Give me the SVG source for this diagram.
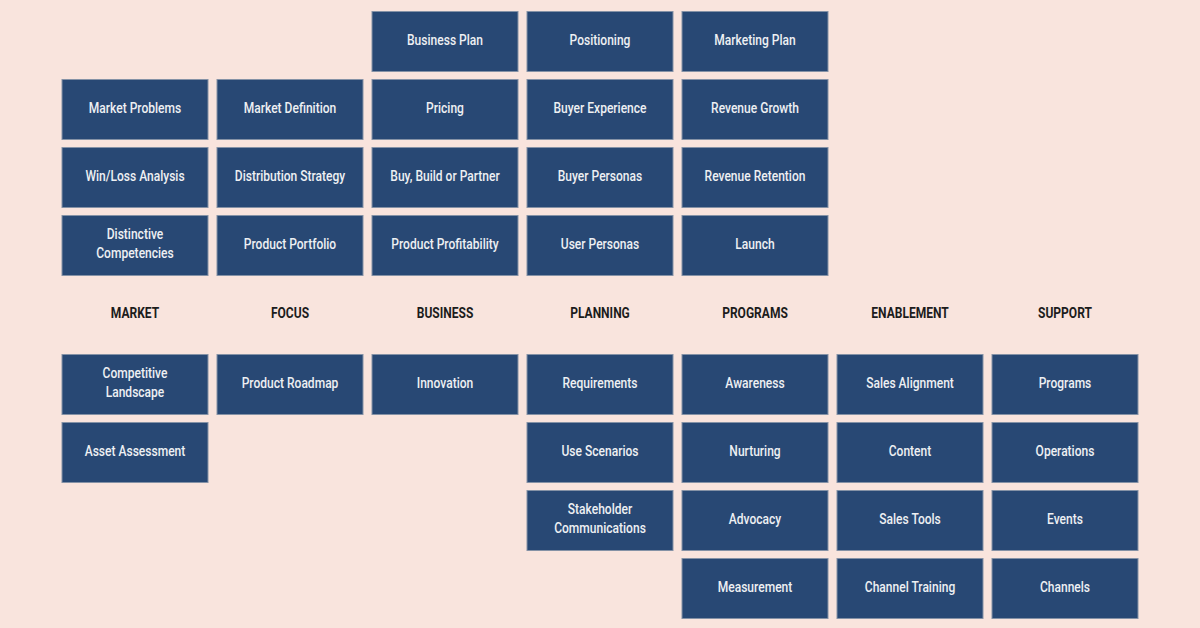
<svg xmlns="http://www.w3.org/2000/svg" width="1200" height="628" viewBox="0 0 1200 628">
<defs>
<style>
.bg{fill:#f9e4dd}
.box{fill:#284874;stroke:#8592a6;stroke-width:1}
.t{font-family:Roboto,"Liberation Sans",sans-serif;font-size:14px;font-weight:500;fill:#eef0f3;text-anchor:middle}
.h{font-family:Roboto,"Liberation Sans",sans-serif;font-size:14px;font-weight:bold;fill:#1c1c1c;text-anchor:middle}
</style>
</defs>
<rect class="bg" width="1200" height="628"/>
<g id="labels">
<text class="h" transform="translate(135,318) scale(0.86,1)">MARKET</text>
<text class="h" transform="translate(290,318) scale(0.86,1)">FOCUS</text>
<text class="h" transform="translate(445,318) scale(0.86,1)">BUSINESS</text>
<text class="h" transform="translate(600,318) scale(0.86,1)">PLANNING</text>
<text class="h" transform="translate(755,318) scale(0.86,1)">PROGRAMS</text>
<text class="h" transform="translate(910,318) scale(0.86,1)">ENABLEMENT</text>
<text class="h" transform="translate(1065,318) scale(0.86,1)">SUPPORT</text>
</g>
<g id="connectors"></g>
<!-- column MARKET x=62 -->
<g id="n-market-problems"><rect class="box" x="62" y="79.5" width="146" height="60"/><text class="t" transform="translate(135,112.5) scale(0.86,1)">Market Problems</text></g>
<g id="n-winloss"><rect class="box" x="62" y="147.5" width="146" height="60"/><text class="t" transform="translate(135,180.5) scale(0.86,1)">Win/Loss Analysis</text></g>
<g id="n-distinctive"><rect class="box" x="62" y="215.5" width="146" height="60"/><text class="t" transform="translate(135,238.5) scale(0.86,1)">Distinctive</text><text class="t" transform="translate(135,257.5) scale(0.86,1)">Competencies</text></g>
<g id="n-competitive"><rect class="box" x="62" y="354.5" width="146" height="60"/><text class="t" transform="translate(135,377.5) scale(0.86,1)">Competitive</text><text class="t" transform="translate(135,396.5) scale(0.86,1)">Landscape</text></g>
<g id="n-asset"><rect class="box" x="62" y="422.5" width="146" height="60"/><text class="t" transform="translate(135,455.5) scale(0.86,1)">Asset Assessment</text></g>
<!-- FOCUS x=217 -->
<g id="n-market-definition"><rect class="box" x="217" y="79.5" width="146" height="60"/><text class="t" transform="translate(290,112.5) scale(0.86,1)">Market Definition</text></g>
<g id="n-distribution"><rect class="box" x="217" y="147.5" width="146" height="60"/><text class="t" transform="translate(290,180.5) scale(0.86,1)">Distribution Strategy</text></g>
<g id="n-portfolio"><rect class="box" x="217" y="215.5" width="146" height="60"/><text class="t" transform="translate(290,248.5) scale(0.86,1)">Product Portfolio</text></g>
<g id="n-roadmap"><rect class="box" x="217" y="354.5" width="146" height="60"/><text class="t" transform="translate(290,387.5) scale(0.86,1)">Product Roadmap</text></g>
<!-- BUSINESS x=372 -->
<g id="n-business-plan"><rect class="box" x="372" y="11.5" width="146" height="60"/><text class="t" transform="translate(445,44.5) scale(0.86,1)">Business Plan</text></g>
<g id="n-pricing"><rect class="box" x="372" y="79.5" width="146" height="60"/><text class="t" transform="translate(445,112.5) scale(0.86,1)">Pricing</text></g>
<g id="n-buy-build"><rect class="box" x="372" y="147.5" width="146" height="60"/><text class="t" transform="translate(445,180.5) scale(0.86,1)">Buy, Build or Partner</text></g>
<g id="n-profitability"><rect class="box" x="372" y="215.5" width="146" height="60"/><text class="t" transform="translate(445,248.5) scale(0.86,1)">Product Profitability</text></g>
<g id="n-innovation"><rect class="box" x="372" y="354.5" width="146" height="60"/><text class="t" transform="translate(445,387.5) scale(0.86,1)">Innovation</text></g>
<!-- PLANNING x=527 -->
<g id="n-positioning"><rect class="box" x="527" y="11.5" width="146" height="60"/><text class="t" transform="translate(600,44.5) scale(0.86,1)">Positioning</text></g>
<g id="n-buyer-experience"><rect class="box" x="527" y="79.5" width="146" height="60"/><text class="t" transform="translate(600,112.5) scale(0.86,1)">Buyer Experience</text></g>
<g id="n-buyer-personas"><rect class="box" x="527" y="147.5" width="146" height="60"/><text class="t" transform="translate(600,180.5) scale(0.86,1)">Buyer Personas</text></g>
<g id="n-user-personas"><rect class="box" x="527" y="215.5" width="146" height="60"/><text class="t" transform="translate(600,248.5) scale(0.86,1)">User Personas</text></g>
<g id="n-requirements"><rect class="box" x="527" y="354.5" width="146" height="60"/><text class="t" transform="translate(600,387.5) scale(0.86,1)">Requirements</text></g>
<g id="n-use-scenarios"><rect class="box" x="527" y="422.5" width="146" height="60"/><text class="t" transform="translate(600,455.5) scale(0.86,1)">Use Scenarios</text></g>
<g id="n-stakeholder"><rect class="box" x="527" y="490.5" width="146" height="60"/><text class="t" transform="translate(600,513.5) scale(0.86,1)">Stakeholder</text><text class="t" transform="translate(600,532.5) scale(0.86,1)">Communications</text></g>
<!-- PROGRAMS x=682 -->
<g id="n-marketing-plan"><rect class="box" x="682" y="11.5" width="146" height="60"/><text class="t" transform="translate(755,44.5) scale(0.86,1)">Marketing Plan</text></g>
<g id="n-revenue-growth"><rect class="box" x="682" y="79.5" width="146" height="60"/><text class="t" transform="translate(755,112.5) scale(0.86,1)">Revenue Growth</text></g>
<g id="n-revenue-retention"><rect class="box" x="682" y="147.5" width="146" height="60"/><text class="t" transform="translate(755,180.5) scale(0.86,1)">Revenue Retention</text></g>
<g id="n-launch"><rect class="box" x="682" y="215.5" width="146" height="60"/><text class="t" transform="translate(755,248.5) scale(0.86,1)">Launch</text></g>
<g id="n-awareness"><rect class="box" x="682" y="354.5" width="146" height="60"/><text class="t" transform="translate(755,387.5) scale(0.86,1)">Awareness</text></g>
<g id="n-nurturing"><rect class="box" x="682" y="422.5" width="146" height="60"/><text class="t" transform="translate(755,455.5) scale(0.86,1)">Nurturing</text></g>
<g id="n-advocacy"><rect class="box" x="682" y="490.5" width="146" height="60"/><text class="t" transform="translate(755,523.5) scale(0.86,1)">Advocacy</text></g>
<g id="n-measurement"><rect class="box" x="682" y="558.5" width="146" height="60"/><text class="t" transform="translate(755,591.5) scale(0.86,1)">Measurement</text></g>
<!-- ENABLEMENT x=837 -->
<g id="n-sales-alignment"><rect class="box" x="837" y="354.5" width="146" height="60"/><text class="t" transform="translate(910,387.5) scale(0.86,1)">Sales Alignment</text></g>
<g id="n-content"><rect class="box" x="837" y="422.5" width="146" height="60"/><text class="t" transform="translate(910,455.5) scale(0.86,1)">Content</text></g>
<g id="n-sales-tools"><rect class="box" x="837" y="490.5" width="146" height="60"/><text class="t" transform="translate(910,523.5) scale(0.86,1)">Sales Tools</text></g>
<g id="n-channel-training"><rect class="box" x="837" y="558.5" width="146" height="60"/><text class="t" transform="translate(910,591.5) scale(0.86,1)">Channel Training</text></g>
<!-- SUPPORT x=992 -->
<g id="n-programs"><rect class="box" x="992" y="354.5" width="146" height="60"/><text class="t" transform="translate(1065,387.5) scale(0.86,1)">Programs</text></g>
<g id="n-operations"><rect class="box" x="992" y="422.5" width="146" height="60"/><text class="t" transform="translate(1065,455.5) scale(0.86,1)">Operations</text></g>
<g id="n-events"><rect class="box" x="992" y="490.5" width="146" height="60"/><text class="t" transform="translate(1065,523.5) scale(0.86,1)">Events</text></g>
<g id="n-channels"><rect class="box" x="992" y="558.5" width="146" height="60"/><text class="t" transform="translate(1065,591.5) scale(0.86,1)">Channels</text></g>
</svg>
